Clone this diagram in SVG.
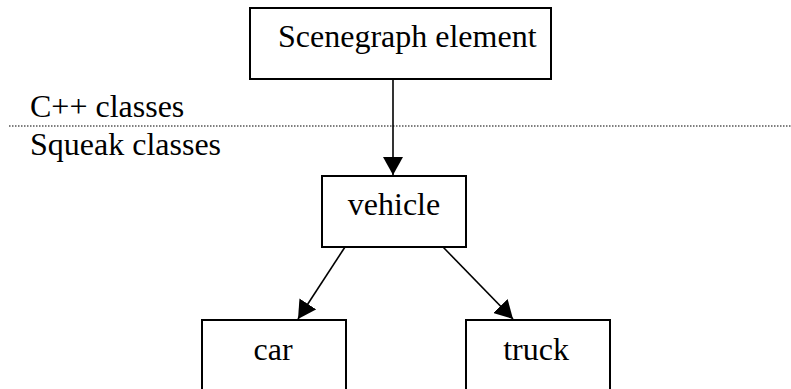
<svg xmlns="http://www.w3.org/2000/svg" width="791" height="389" viewBox="0 0 791 389">
  <defs>
    <style>
      .box { fill: #ffffff; stroke: #000000; stroke-width: 2; }
      .lbl { font-family: 'Liberation Serif', 'Times New Roman', 'DejaVu Serif', serif; font-size: 32px; fill: #000000; }
      .edge { stroke: #000000; stroke-width: 1.6; fill: none; marker-end: url(#head); }
      .divider { stroke: #000000; stroke-width: 1.2; stroke-dasharray: 1.5 1.5; }
    </style>
    <marker id="head" viewBox="0 0 18 20" refX="18" refY="10" markerWidth="18" markerHeight="20" markerUnits="userSpaceOnUse" orient="auto">
      <path d="M0,0 L18,10 L0,20 Z" fill="#000000"/>
    </marker>
  </defs>
  <rect width="791" height="389" fill="#ffffff"/>

  <!-- layer divider and captions -->
  <line class="divider" x1="9" y1="126" x2="791" y2="126"/>
  <g font-family="'Liberation Serif', 'Times New Roman', serif">
    <text class="lbl" x="30" y="117">C++ classes</text>
    <text class="lbl" x="30" y="155">Squeak classes</text>
  </g>

  <g id="scenegraph-element" font-family="'Liberation Serif', 'Times New Roman', serif">
    <rect class="box" x="250" y="8" width="301" height="71"/>
    <text class="lbl" x="278" y="47">Scenegraph element</text>
  </g>

  <g id="vehicle" font-family="'Liberation Serif', 'Times New Roman', serif">
    <rect class="box" x="322" y="176" width="144" height="71"/>
    <text class="lbl" x="394" y="215" text-anchor="middle">vehicle</text>
  </g>

  <g id="car" font-family="'Liberation Serif', 'Times New Roman', serif">
    <rect class="box" x="202" y="320" width="144" height="90"/>
    <text class="lbl" x="273" y="360" text-anchor="middle">car</text>
  </g>

  <g id="truck" font-family="'Liberation Serif', 'Times New Roman', serif">
    <rect class="box" x="466" y="320" width="144" height="90"/>
    <text class="lbl" x="536" y="360" text-anchor="middle">truck</text>
  </g>

  <g id="connectors">
    <line class="edge" x1="393" y1="80" x2="393" y2="175"/>
    <line class="edge" x1="345" y1="247" x2="298" y2="319"/>
    <line class="edge" x1="443" y1="247" x2="513" y2="319"/>
  </g>
</svg>
